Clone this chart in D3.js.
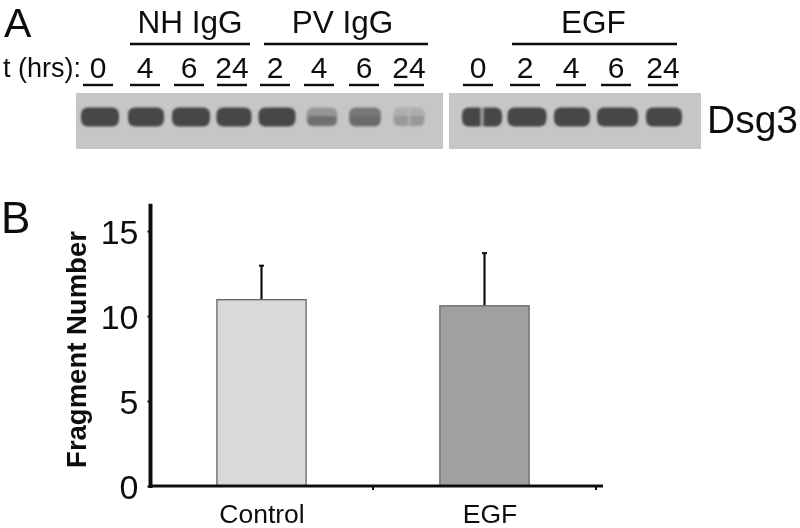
<!DOCTYPE html>
<html>
<head>
<meta charset="utf-8">
<script src="https://cdn.jsdelivr.net/npm/d3@7"></script>
<style>
html,body{margin:0;padding:0;background:#fff;overflow:hidden}
svg{display:block}
text{font-family:"Liberation Sans",Arial,sans-serif;fill:#111}
</style>
</head>
<body>
<svg id="c" width="800" height="528"></svg>
<script>
// Panel B
const categories = ["Control", "EGF"];
const fragmentMeans = [10.96, 10.6];
const fragmentErrors = [2.0, 3.1];
const barFills = ["#d9d9d9", "#a0a0a0"];
const yTicks = [0, 5, 10, 15];

// Panel A: one entry per lane of the blot
const laneIds = ["n0","n4","n6","n24","p2","p4","p6","p24","e0","e2","e4","e6","e24"];
const laneLabels = ["0","4","6","24","2","4","6","24","0","2","4","6","24"];
const bandWidths = [38,36,38,35,37,31,32,32,40,39,36,41,36];
const upperDensity = [1,1,1,1,1,0.38,0.62,0.2,1,1,1,1,1];
const lowerDensity = [1,1,1,1,1,0.68,0.72,0.36,1,1,1,1,1];
const laneNotch = [0,0,0,0,0,0,0,0.45,0.7,0,0,0,0];
const groups = ["NH IgG","PV IgG","EGF"];

const svg = d3.select("#c");
const defs = svg.append("defs");
defs.append("filter").attr("id","blur").attr("x","-20%").attr("y","-40%").attr("width","140%").attr("height","180%")
  .append("feGaussianBlur").attr("stdDeviation",1.3);
defs.append("filter").attr("id","soft").attr("x","-5%").attr("y","-5%").attr("width","110%").attr("height","110%")
  .append("feGaussianBlur").attr("stdDeviation",0.35);

const root = svg.append("g").attr("filter","url(#soft)");

/* ---------- Panel A ---------- */
const labelX = d3.scaleOrdinal().domain(laneIds)
  .range([98,145,189,232,275,319,364,409,478,525,571,616,663]);
const bandX = d3.scaleOrdinal().domain(laneIds)
  .range([100,146,191,234,277,322,365,409,482,527,572,617.5,664]);
const groupStart = d3.scaleOrdinal().domain(groups).range([130,264,512]);
const groupEnd = d3.scaleOrdinal().domain(groups).range([250,428,677]);
const groupLabelX = d3.scaleOrdinal().domain(groups).range([190,342.5,593.5]);
const gray = d3.scaleLinear().domain([0,1]).range(["#c6c6c6","#474747"]);

root.append("text").attr("x",4).attr("y",37).attr("font-size",41).text("A");
root.append("text").attr("x",3).attr("y",77).attr("font-size",27).text("t (hrs):");

const panels = [[76,443],[449,701]];
root.selectAll("rect.panel").data(panels).join("rect").attr("class","panel")
  .attr("x",d=>d[0]).attr("y",93).attr("width",d=>d[1]-d[0]).attr("height",56)
  .attr("fill","#c6c6c6");

const lanes = laneIds.map((id,i)=>({id,label:laneLabels[i],w:bandWidths[i],up:upperDensity[i],lo:lowerDensity[i],notch:laneNotch[i]}));
const bands = root.append("g").attr("filter","url(#blur)");
bands.selectAll("rect.whole").data(lanes).join("rect").attr("class","whole")
  .attr("x",d=>bandX(d.id)-d.w/2).attr("width",d=>d.w)
  .attr("y",107.5).attr("height",19).attr("rx",7)
  .attr("fill",d=>gray(Math.min(d.up,d.lo)));
bands.selectAll("rect.up").data(lanes).join("rect").attr("class","up")
  .attr("x",d=>bandX(d.id)-d.w/2+1).attr("width",d=>d.w-2)
  .attr("y",108.5).attr("height",9).attr("rx",4)
  .attr("fill",d=>gray(d.up));
bands.selectAll("rect.lo").data(lanes).join("rect").attr("class","lo")
  .attr("x",d=>bandX(d.id)-d.w/2+1).attr("width",d=>d.w-2)
  .attr("y",116).attr("height",9.5).attr("rx",4)
  .attr("fill",d=>gray(d.lo));
bands.selectAll("rect.notch").data(lanes.filter(d=>d.notch>0)).join("rect").attr("class","notch")
  .attr("x",d=>bandX(d.id)-1.5).attr("width",3)
  .attr("y",105).attr("height",24)
  .attr("fill","#c6c6c6").attr("opacity",d=>d.notch);

root.selectAll("text.lane").data(lanes).join("text").attr("class","lane")
  .attr("x",d=>labelX(d.id)).attr("y",78).attr("text-anchor","middle").attr("font-size",30)
  .text(d=>d.label);
root.selectAll("line.under").data(lanes).join("line").attr("class","under")
  .attr("x1",d=>labelX(d.id)-15).attr("x2",d=>labelX(d.id)+15)
  .attr("y1",85).attr("y2",85).attr("stroke","#111").attr("stroke-width",2.4);

root.selectAll("line.group").data(groups).join("line").attr("class","group")
  .attr("x1",d=>groupStart(d)).attr("x2",d=>groupEnd(d)).attr("y1",44).attr("y2",44)
  .attr("stroke","#111").attr("stroke-width",2.4);
root.selectAll("text.group").data(groups).join("text").attr("class","group")
  .attr("x",d=>groupLabelX(d)).attr("y",33).attr("text-anchor","middle").attr("font-size",31.5)
  .text(d=>d);
root.append("text").attr("x",707).attr("y",133).attr("font-size",39).text("Dsg3");

/* ---------- Panel B ---------- */
root.append("text").attr("x",1).attr("y",233).attr("font-size",44).text("B");

const x = d3.scaleBand().domain(categories).range([150,596]).paddingInner(0.6).paddingOuter(0.3);
const y = d3.scaleLinear().domain([0,15]).range([486,231]);
const yTop = 16.6;
const rows = categories.map((c,i)=>({c,v:fragmentMeans[i],e:fragmentErrors[i],f:barFills[i]}));

const cx = c => x(c)+x.bandwidth()/2;
root.selectAll("line.err").data(rows).join("line").attr("class","err")
  .attr("x1",d=>cx(d.c)).attr("x2",d=>cx(d.c)).attr("y1",d=>y(d.v)).attr("y2",d=>y(d.v+d.e))
  .attr("stroke","#111").attr("stroke-width",2.2);
root.selectAll("line.cap").data(rows).join("line").attr("class","cap")
  .attr("x1",d=>cx(d.c)-2.5).attr("x2",d=>cx(d.c)+2.5).attr("y1",d=>y(d.v+d.e)).attr("y2",d=>y(d.v+d.e))
  .attr("stroke","#111").attr("stroke-width",2);
root.selectAll("rect.bar").data(rows).join("rect").attr("class","bar")
  .attr("x",d=>x(d.c)).attr("width",x.bandwidth())
  .attr("y",d=>y(d.v)).attr("height",d=>y(0)-y(d.v))
  .attr("fill",d=>d.f).attr("stroke","#666").attr("stroke-width",1.3);

// axes
const yAxis = root.append("g").attr("transform","translate(150.5,0)")
  .call(d3.axisLeft(y).tickValues(yTicks).tickSize(3).tickPadding(9));
yAxis.select(".domain").remove();
yAxis.selectAll(".tick line").attr("stroke","#111").attr("stroke-width",2);
yAxis.selectAll(".tick text").attr("font-size",34).attr("dy","0.36em")
  .style("font-family",'"Liberation Sans",Arial,sans-serif').attr("fill","#111");
root.append("line").attr("x1",150.5).attr("x2",150.5).attr("y1",y(yTop)).attr("y2",y(0)+2)
  .attr("stroke","#111").attr("stroke-width",4);

const xLabelShift = d3.scaleOrdinal().domain(categories).range([0.5,5.5]);
const xAxis = root.append("g").attr("transform","translate(0,486)")
  .call(d3.axisBottom(x).tickSize(0).tickPadding(16));
xAxis.select(".domain").remove();
xAxis.selectAll(".tick text").attr("font-size",26.5).attr("dy","0.78em")
  .attr("dx",d=>xLabelShift(d))
  .style("font-family",'"Liberation Sans",Arial,sans-serif').attr("fill","#111");
root.append("line").attr("x1",149).attr("x2",x.range()[1]+7).attr("y1",y(0)).attr("y2",y(0))
  .attr("stroke","#111").attr("stroke-width",3);
const boundaries = [x.step()*0.5+cx(categories[0]), x.range()[1]];
root.selectAll("line.xt").data(boundaries).join("line").attr("class","xt")
  .attr("x1",d=>d).attr("x2",d=>d).attr("y1",y(0)).attr("y2",y(0)+4)
  .attr("stroke","#111").attr("stroke-width",2);

root.append("text").attr("transform","translate(86,349.5) rotate(-90)")
  .attr("text-anchor","middle").attr("font-size",27.5).attr("font-weight","bold").text("Fragment Number");
</script>
</body>
</html>
